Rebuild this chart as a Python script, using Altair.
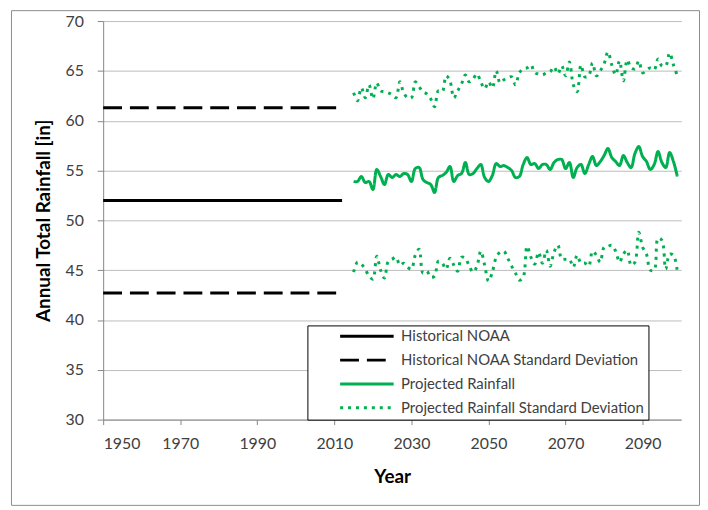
import altair as alt
import pandas as pd

series_names = [
    "Historical NOAA",
    "Historical NOAA Standard Deviation",
    "Projected Rainfall",
    "Projected Rainfall Standard Deviation",
]

hist_years = [1950, 2012]
hist_mean = 52.0
hist_sd_upper = 61.3
hist_sd_lower = 42.7

proj_years = list(range(2015, 2100))
proj_rain = [
    53.9, 53.9, 54.4, 53.8, 53.9, 53.1, 55.1, 54.4, 53.6, 54.6,
    54.3, 54.6, 54.4, 54.7, 54.6, 53.9, 55.2, 55.3, 54.1, 53.8,
    53.6, 52.8, 54.3, 54.5, 54.8, 55.4, 53.9, 54.5, 54.7, 55.8,
    54.6, 54.7, 55.2, 55.6, 54.3, 53.9, 54.5, 55.7, 55.4, 55.5,
    55.3, 55.0, 54.3,
    54.4, 55.6, 56.3, 55.6, 55.7, 55.2, 55.6, 55.6, 55.1, 55.8,
    56.1, 56.1, 55.2, 55.8, 54.3, 55.3, 55.6, 54.7, 55.6, 56.4,
    55.5, 55.9, 56.5, 57.2, 56.3, 55.9, 55.5, 56.5, 55.8, 55.3,
    56.7, 57.4, 56.4, 55.9, 55.1, 55.6, 56.9, 55.8, 55.3, 56.8,
    55.9, 54.4,
]
proj_upper = [
    62.8, 62.0, 63.3, 62.3, 63.6, 62.2, 63.8, 63.0, 62.9, 62.8,
    62.6, 62.3, 63.9, 62.8, 62.3, 62.3, 63.9, 63.4, 62.9, 62.7,
    62.2, 61.4, 63.0, 62.9, 64.5, 64.0, 62.3, 63.0, 63.7, 64.6,
    63.9, 64.2, 64.7, 63.9, 63.2, 63.9, 63.3, 65.0, 63.8, 64.1,
    64.3, 64.4, 63.6,
    64.8, 65.2, 65.3, 65.6, 64.8, 64.7, 64.6, 64.8, 64.9, 65.4,
    64.7, 65.5, 64.5, 65.9, 63.6, 62.9, 65.6, 64.4, 64.5, 65.8,
    64.5, 65.0, 65.7, 66.9, 65.6, 64.6, 66.0, 64.0, 66.1, 65.3,
    65.2, 66.0, 64.8, 65.1, 65.3, 65.1, 66.2, 65.5, 65.5, 66.8,
    65.6, 64.5,
]
proj_lower = [
    44.8, 45.8, 45.6, 45.1, 44.4, 44.1, 46.4, 45.0, 44.2, 45.9,
    46.1, 46.3, 45.5, 45.7, 45.3, 45.1, 46.5, 47.1, 44.7, 44.9,
    44.3, 44.4, 45.9, 45.7, 45.1, 46.2, 45.5, 44.9, 46.3, 46.2,
    45.4, 44.8, 45.4, 46.9, 45.5, 43.9, 44.8, 46.3, 46.8, 46.9,
    46.2, 45.4, 44.7,
    44.0, 44.3, 47.4, 46.3, 45.6, 46.8, 45.7, 47.0, 45.4, 46.8,
    47.5, 46.1, 46.1, 46.1, 45.3, 46.5, 45.7, 45.7, 45.4, 46.9,
    46.5, 45.8, 47.3, 47.4, 47.5, 46.9, 45.8, 46.6, 47.0, 45.5,
    45.8, 48.8, 47.3, 46.6, 45.0, 45.0, 48.2, 48.0, 45.1, 46.6,
    46.5, 44.9,
]

x_ticks = [1950, 1970, 1990, 2010, 2030, 2050, 2070, 2090]
y_ticks = [30, 35, 40, 45, 50, 55, 60, 65, 70]

rows = []
for yr in hist_years:
    rows.append({"year": yr, "value": hist_mean, "series": series_names[0], "line": "h_mean"})
    rows.append({"year": yr, "value": hist_sd_upper, "series": series_names[1], "line": "h_up"})
    rows.append({"year": yr, "value": hist_sd_lower, "series": series_names[1], "line": "h_lo"})
for yr, v, u, l in zip(proj_years, proj_rain, proj_upper, proj_lower):
    rows.append({"year": yr, "value": v, "series": series_names[2], "line": "p_mean"})
    rows.append({"year": yr, "value": u, "series": series_names[3], "line": "p_up"})
    rows.append({"year": yr, "value": l, "series": series_names[3], "line": "p_lo"})
df = pd.DataFrame(rows)

FONT = "Lato"

lines = alt.Chart(df).mark_line(interpolate="catmull-rom").encode(
    x=alt.X(
        "year:Q",
        scale=alt.Scale(domain=[1950, 2100], nice=False, zero=False),
        axis=alt.Axis(
            values=x_ticks, format="d", title="Year", grid=False,
            domainColor="#868686", tickColor="#868686", tickSize=5,
            labelFont=FONT, labelFontSize=16, labelColor="#404040", labelPadding=11,
            titleFont=FONT, titleFontSize=19, titleFontWeight="bold", titleColor="#000000",
            titlePadding=16,
        ),
    ),
    y=alt.Y(
        "value:Q",
        scale=alt.Scale(domain=[30, 70], nice=False, zero=False),
        axis=alt.Axis(
            values=y_ticks, title="Annual Total Rainfall [in]", grid=True,
            gridColor="#bcbcbc", gridWidth=1,
            domainColor="#868686", tickColor="#868686", tickSize=6,
            labelFont=FONT, labelFontSize=16, labelColor="#404040", labelPadding=14,
            titleFont=FONT, titleFontSize=19, titleFontWeight="bold", titleColor="#000000",
            titlePadding=12,
        ),
    ),
    color=alt.Color(
        "series:N",
        scale=alt.Scale(domain=series_names, range=["#000000", "#000000", "#00B050", "#00B050"]),
        legend=alt.Legend(title=None),
    ),
    strokeDash=alt.StrokeDash(
        "series:N",
        scale=alt.Scale(domain=series_names, range=[[1, 0], [19, 8], [1, 0], [3, 5]]),
        legend=alt.Legend(title=None),
    ),
    strokeWidth=alt.StrokeWidth(
        "series:N",
        scale=alt.Scale(domain=series_names, range=[3, 3, 5, 3]),
        legend=alt.Legend(title=None),
    ),
    detail="line:N",
)

frame = alt.Chart(pd.DataFrame({"k": [0]})).mark_rect(
    fill=None, stroke="#8c8c8c", strokeWidth=1
).encode(
    x=alt.value(-92.5), x2=alt.value(601.5),
    y=alt.value(-10.5), y2=alt.value(488.5),
)

chart = alt.layer(frame, lines).properties(
    width=583,
    height=402,
    padding={"left": 96, "top": 11, "right": 19, "bottom": 89},
    autosize=alt.AutoSizeParams(type="none"),
).configure_view(stroke=None).configure_legend(
    orient="none",
    legendX=206,
    legendY=307,
    strokeColor="#000000",
    fillColor="#ffffff",
    padding=3.5,
    symbolType="stroke",
    symbolSize=2916,
    symbolOffset=28,
    clipHeight=15,
    rowPadding=8,
    labelOffset=6,
    labelFont=FONT,
    labelFontSize=15,
    labelColor="#404040",
    labelLimit=400,
)

chart.save("out.html", embed_options={"renderer": "svg", "actions": False})
